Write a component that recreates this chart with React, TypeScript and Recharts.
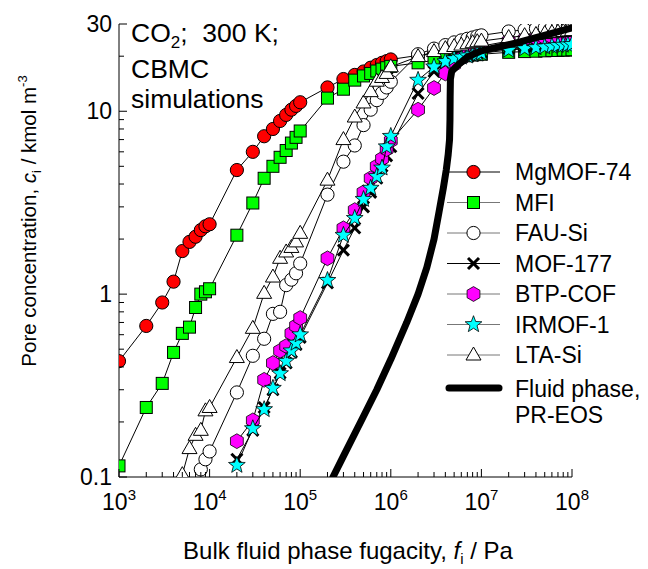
import React from 'react';
import { ScatterChart, Scatter, XAxis, YAxis } from 'recharts';

const FONT = '"Liberation Sans", Arial, Helvetica, sans-serif';

// Bulk fluid phase fugacity grid, Pa
const fGrid = [
  1e3, 2e3, 3e3, 4e3, 5e3, 6e3, 7e3, 8e3, 9e3,
  1e4, 2e4, 3e4, 4e4, 5e4, 6e4, 7e4, 8e4, 9e4,
  1e5, 2e5, 3e5, 4e5, 5e5, 6e5, 7e5, 8e5, 9e5,
  1e6, 2e6, 3e6, 4e6, 5e6, 6e6, 7e6, 8e6, 9e6,
  1e7, 2e7, 3e7, 4e7, 5e7, 6e7, 7e7, 8e7, 9e7,
  1e8,
];

// Pore concentrations, kmol/m3
const mgmof74 = [
  0.43, 0.67, 0.9, 1.17, 1.72, 1.93, 2.06, 2.24, 2.35,
  2.41, 4.77, 6.0, 7.3, 8.0, 8.85, 9.55, 10.2, 10.7,
  11.2, 13.5, 15.0, 15.8, 16.5, 17.3, 17.9, 18.4, 18.8,
  19.2, 20.2, 20.6, 20.9, 21.1, 21.2, 21.3, 21.4, 21.5,
  21.6, 21.9, 22.0, 22.1, 22.2, 22.2, 22.3, 22.3, 22.4,
  22.4,
];
const mfi = [
  0.115, 0.24, 0.325, 0.48, 0.61, 0.66, 0.845, 1.0, 1.03,
  1.07, 2.1, 3.15, 4.3, 5.0, 5.6, 6.1, 6.7, 7.2,
  7.8, 11.8, 13.2, 14.8, 15.6, 16.1, 16.6, 17.0, 17.3,
  17.6, 18.4, 19.0, 19.4, 19.7, 19.9, 20.1, 20.3, 20.4,
  20.5, 21.0, 21.2, 21.3, 21.4, 21.5, 21.5, 21.6, 21.6,
  21.7,
];
const fauSi = [
  0.11, 0.125,
  0.138, 0.29, 0.46, 0.57, 0.78, 0.8, 1.12, 1.2, 1.3,
  1.47, 3.5, 5.3, 6.5, 8.4, 10.2, 11.5, 12.6, 13.5,
  14.5, 20.5, 22.0, 23.0, 23.8, 24.4, 24.9, 25.3, 25.7,
  26.0, 27.3, 27.9, 28.3, 28.6, 28.8, 29.0, 29.2, 29.3,
  29.4,
];
const mof177 = [
  0.125, 0.18, 0.24, 0.3, 0.37, 0.42, 0.48, 0.53,
  0.58, 1.15, 1.74, 2.3, 3.0, 3.6, 4.3, 5.0, 5.7,
  6.4, 12.5, 16.5, 18.3, 19.2, 19.8, 20.2, 20.5, 20.8,
  21.0, 22.0, 22.5, 22.8, 23.0, 23.2, 23.3, 23.4, 23.5,
  23.6,
];
const btpCof = [
  0.157, 0.204, 0.34, 0.42, 0.49, 0.52, 0.61, 0.67,
  0.74, 1.57, 2.29, 2.88, 3.6, 4.3, 5.0, 5.5, 6.2,
  6.9, 10.2, 13.4, 16.1, 18.0, 19.5, 20.6, 21.5, 22.2,
  22.7, 24.2, 24.8, 25.1, 25.3, 25.5, 25.6, 25.7, 25.8,
  25.9,
];
const irmof1 = [
  0.116, 0.184, 0.234, 0.306, 0.368, 0.43, 0.49, 0.54,
  0.6, 1.19, 2.1, 2.6, 3.3, 3.8, 4.4, 4.9, 6.4,
  7.3, 14.8, 17.5, 18.7, 19.4, 19.8, 20.1, 20.4, 20.6,
  20.8, 21.6, 22.0, 22.3, 22.5, 22.7, 22.9, 23.0, 23.1,
  23.2,
];
const ltaSi = [
  0.103, 0.143, 0.169, 0.18, 0.23,
  0.24, 0.45, 0.65, 1.01, 1.24, 1.57, 1.7, 1.8, 1.93,
  2.15, 4.2, 7.0, 9.3, 11.1, 12.8, 14.6, 15.3, 16.1,
  17.5, 19.9, 21.2, 22.0, 22.6, 23.0, 23.4, 23.7, 24.0,
  24.2, 25.3, 25.9, 26.3, 26.6, 26.9, 27.1, 27.3, 27.5,
  27.6,
];

// Fluid phase, Peng-Robinson EOS
const eosF = [
  2.3e5, 3e5, 5e5, 7e5, 1e6, 1.5e6, 2e6, 2.5e6, 3e6, 3.4e6, 3.8e6, 4.1e6,
  4.3e6, 4.45e6, 4.5e6, 4.52e6, 4.55e6, 4.7e6, 5.3e6, 7e6, 1e7, 2.5e7, 5.7e7, 1e8,
];
const eosC = [
  0.1, 0.13, 0.215, 0.3, 0.44, 0.7, 1.0, 1.4, 2.0, 2.8, 3.8, 4.8,
  5.8, 7.0, 9, 12, 15, 16.5, 17.6, 19.8, 21.4, 23.7, 26.5, 28.6,
];

const xTicks = [
  1e3, 2e3, 3e3, 4e3, 5e3, 6e3, 7e3, 8e3, 9e3,
  1e4, 2e4, 3e4, 4e4, 5e4, 6e4, 7e4, 8e4, 9e4,
  1e5, 2e5, 3e5, 4e5, 5e5, 6e5, 7e5, 8e5, 9e5,
  1e6, 2e6, 3e6, 4e6, 5e6, 6e6, 7e6, 8e6, 9e6,
  1e7, 2e7, 3e7, 4e7, 5e7, 6e7, 7e7, 8e7, 9e7,
  1e8,
];
const xMajor = [1e3, 1e4, 1e5, 1e6, 1e7, 1e8];
const yTicks = [
  0.1, 0.2, 0.3, 0.4, 0.5, 0.6, 0.7, 0.8, 0.9,
  1, 2, 3, 4, 5, 6, 7, 8, 9,
  10, 20, 30,
];
const yLabels: Record<string, string> = { '0.1': '0.1', '1': '1', '10': '10', '30': '30' };

const pts = (f: number[], c: number[]) => c.map((v, i) => ({ f: f[i], c: v }));

const seriesDefs = [
  { name: 'MgMOF-74', data: pts(fGrid, mgmof74), marker: 'circle', fill: '#ff0000', legendLine: '#000' },
  { name: 'MFI', data: pts(fGrid, mfi), marker: 'square', fill: '#00ff00', legendLine: '#777' },
  { name: 'FAU-Si', data: pts(fGrid.slice(7), fauSi), marker: 'circle', fill: '#ffffff', legendLine: '#777' },
  { name: 'MOF-177', data: pts(fGrid.slice(10), mof177), marker: 'x', fill: '#000', legendLine: '#000' },
  { name: 'BTP-COF', data: pts(fGrid.slice(10), btpCof), marker: 'hexagon', fill: '#ff00ff', legendLine: '#777' },
  { name: 'IRMOF-1', data: pts(fGrid.slice(10), irmof1), marker: 'star', fill: '#00ffff', legendLine: '#777' },
  { name: 'LTA-Si', data: pts(fGrid.slice(4), ltaSi), marker: 'triangle', fill: '#ffffff', legendLine: '#777' },
];
const eosData = pts(eosF, eosC);

function Marker({ kind, cx, cy, fill }: { kind: string; cx: number; cy: number; fill: string }) {
  if (cx == null || cy == null || isNaN(cx) || isNaN(cy)) return null;
  switch (kind) {
    case 'circle':
      return <circle cx={cx} cy={cy} r={6.6} fill={fill} stroke="#000" strokeWidth={1} />;
    case 'square':
      return <rect x={cx - 6} y={cy - 6} width={12} height={12} fill={fill} stroke="#000" strokeWidth={1} />;
    case 'x':
      return (
        <g stroke="#000" strokeWidth={3}>
          <line x1={cx - 5.5} y1={cy - 5.5} x2={cx + 5.5} y2={cy + 5.5} />
          <line x1={cx - 5.5} y1={cy + 5.5} x2={cx + 5.5} y2={cy - 5.5} />
        </g>
      );
    case 'hexagon': {
      const r = 7.4;
      const p = [0, 1, 2, 3, 4, 5]
        .map((k) => {
          const a = (Math.PI / 3) * k - Math.PI / 2;
          return `${cx + r * Math.cos(a)},${cy + r * Math.sin(a)}`;
        })
        .join(' ');
      return <polygon points={p} fill={fill} stroke="#000" strokeWidth={0.8} />;
    }
    case 'star': {
      const ro = 8.8;
      const ri = 3.7;
      const p = Array.from({ length: 10 })
        .map((_, k) => {
          const r = k % 2 === 0 ? ro : ri;
          const a = (Math.PI / 5) * k - Math.PI / 2;
          return `${cx + r * Math.cos(a)},${cy + r * Math.sin(a)}`;
        })
        .join(' ');
      return <polygon points={p} fill={fill} stroke="#000" strokeWidth={0.8} />;
    }
    case 'triangle':
      return (
        <polygon
          points={`${cx},${cy - 8} ${cx + 7.5},${cy + 5} ${cx - 7.5},${cy + 5}`}
          fill={fill}
          stroke="#000"
          strokeWidth={1}
        />
      );
    default:
      return null;
  }
}

const XTick = (props: any) => {
  const { x, y, payload } = props;
  const v = payload.value as number;
  const major = xMajor.includes(v);
  const e = Math.round(Math.log10(v));
  return (
    <g>
      <line x1={x} y1={y} x2={x} y2={y - (major ? 8 : 5)} stroke="#000" strokeWidth={1} />
      {major && (
        <text x={x} y={y + 33} textAnchor="middle" fontFamily={FONT} fontSize={23} fill="#000">
          10
          <tspan dy={-10} fontSize={15}>
            {e}
          </tspan>
        </text>
      )}
    </g>
  );
};

const YTick = (props: any) => {
  const { x, y, payload } = props;
  const v = payload.value as number;
  const label = yLabels[String(v)];
  return (
    <g>
      <line x1={x} y1={y} x2={x + (label ? 8 : 5)} y2={y} stroke="#000" strokeWidth={1} />
      {label && (
        <text x={x - 7} y={y + 8} textAnchor="end" fontFamily={FONT} fontSize={23} fill="#000">
          {label}
        </text>
      )}
    </g>
  );
};

const W = 640;
const H = 561;
const legendRows = [164, 194.5, 225, 255.5, 286, 316.5, 347];

export default function App() {
  return (
    <div style={{ position: 'relative', width: W, height: H }}>
      <ScatterChart width={W} height={H} margin={{ top: 16, right: 76, left: 0, bottom: 0 }}>
        <XAxis
          dataKey="f"
          type="number"
          scale="log"
          domain={[1e3, 1e8]}
          allowDataOverflow
          ticks={xTicks}
          interval={0}
          tick={<XTick />}
          tickLine={false}
          tickSize={0}
          tickMargin={0}
          height={92}
          axisLine={{ stroke: '#000', strokeWidth: 1 }}
        />
        <YAxis
          dataKey="c"
          type="number"
          scale="log"
          domain={[0.1, 30]}
          allowDataOverflow
          ticks={yTicks}
          interval={0}
          tick={<YTick />}
          tickLine={false}
          tickSize={0}
          tickMargin={0}
          width={111}
          axisLine={{ stroke: '#000', strokeWidth: 1 }}
        />
        {seriesDefs.map((s) => (
          <Scatter
            key={s.name}
            name={s.name}
            data={s.data}
            isAnimationActive={false}
            line={{ stroke: '#000', strokeWidth: 1 }}
            lineType="joint"
            shape={(p: any) => <Marker kind={s.marker} cx={p.cx} cy={p.cy} fill={s.fill} />}
          />
        ))}
        <Scatter
          name="Fluid phase, PR-EOS"
          data={eosData}
          isAnimationActive={false}
          line={{ stroke: '#000', strokeWidth: 7, strokeLinecap: 'round', strokeLinejoin: 'round' }}
          lineType="joint"
          shape={() => <g />}
        />
      </ScatterChart>
      <svg
        width={W}
        height={H}
        style={{ position: 'absolute', left: 0, top: 0, pointerEvents: 'none' }}
        fontFamily={FONT}
      >
        {/* annotation */}
        <text x={123} y={34} fontSize={26.5} fill="#000">
          CO
          <tspan dy={6} fontSize={17}>2</tspan>
          <tspan dy={-6}>;{'\u00a0\u00a0'}300 K;</tspan>
        </text>
        <text x={123} y={70} fontSize={26.5} fill="#000">CBMC</text>
        <text x={123} y={100} fontSize={26.5} fill="#000">simulations</text>

        {/* legend */}
        {seriesDefs.map((s, i) => (
          <g key={s.name}>
            <line x1={439} y1={legendRows[i]} x2={492} y2={legendRows[i]} stroke={s.legendLine} strokeWidth={1} />
            <Marker kind={s.marker} cx={465.5} cy={legendRows[i]} fill={s.fill} />
            <text x={507} y={legendRows[i] + 8.3} fontSize={23} fill="#000">
              {s.name}
            </text>
          </g>
        ))}
        <line x1={441} y1={380} x2={491} y2={380} stroke="#000" strokeWidth={7} strokeLinecap="round" />
        <text x={507} y={388.5} fontSize={23} fill="#000">Fluid phase,</text>
        <text x={507} y={415} fontSize={23} fill="#000">PR-EOS</text>

        {/* axis titles */}
        <text x={340} y={551} textAnchor="middle" fontSize={24} fill="#000">
          Bulk fluid phase fugacity,{' '}
          <tspan fontStyle="italic">f</tspan>
          <tspan dy={5} fontSize={15}>i</tspan>
          <tspan dy={-5}> / Pa</tspan>
        </text>
        <text
          x={0}
          y={0}
          transform="translate(28, 213) rotate(-90)"
          textAnchor="middle"
          fontSize={20.5}
          fill="#000"
        >
          Pore concentration,{' '}
          <tspan fontStyle="italic">c</tspan>
          <tspan dy={5} fontSize={13}>i</tspan>
          <tspan dy={-5}> / kmol m</tspan>
          <tspan dy={-9} fontSize={13}>-3</tspan>
        </text>
      </svg>
    </div>
  );
}
